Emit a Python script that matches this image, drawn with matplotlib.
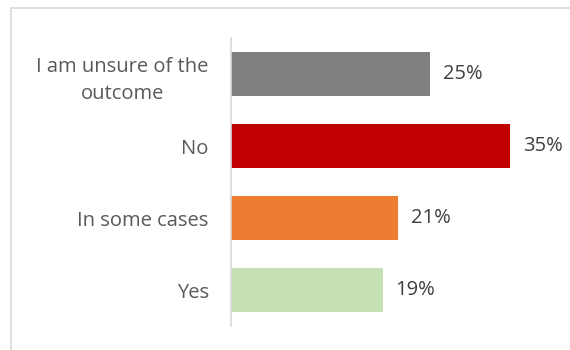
import matplotlib.pyplot as plt
from matplotlib.patches import Rectangle

# Data (top to bottom)
categories = ["I am unsure of the\noutcome", "No", "In some cases", "Yes"]
values = [25, 35, 21, 19]
colors = ["#7f7f7f", "#c00000", "#ed7d31", "#c5e0b4"]

plt.rcParams['font.family'] = ['Open Sans', 'DejaVu Sans']

fig = plt.figure(figsize=(5.7, 3.5), dpi=100)
ax = fig.add_axes([231 / 570, 24 / 350, 319 / 570, 288 / 350])

# outer chart border
fig.patches.append(Rectangle((11 / 570, -0.1), 1.2, (350 - 8) / 350 + 0.1,
                             transform=fig.transFigure, fill=False,
                             edgecolor="#d9d9d9", linewidth=1.2))

ypos = list(range(len(categories)))[::-1]
ax.barh(ypos, values, height=0.6, color=colors)

for y, v in zip(ypos, values):
    ax.text(v + 1.6, y, f"{v}%", va="center", ha="left", fontsize=14.5, color="#404040")

ax.set_xlim(0, 40)
ax.set_ylim(-0.5, 3.5)
ax.set_yticks(ypos)
ax.set_yticklabels(categories, fontsize=14.5, color="#595959", ha="right",
                   multialignment="center", linespacing=1.5)
ax.tick_params(axis="y", length=0, pad=16)
ax.set_xticks([])
for s in ["top", "right", "bottom"]:
    ax.spines[s].set_visible(False)
ax.spines["left"].set_color("#d9d9d9")
ax.spines["left"].set_linewidth(1.2)

fig.savefig("out.png", dpi=100)
